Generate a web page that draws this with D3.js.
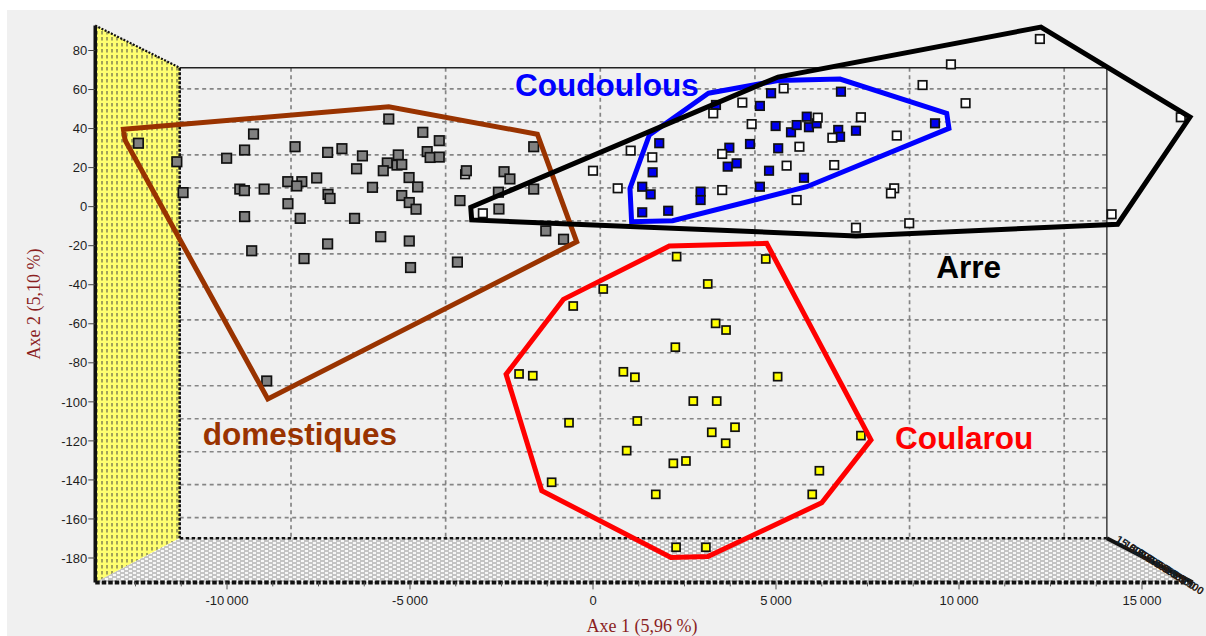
<!DOCTYPE html>
<html><head><meta charset="utf-8">
<script src="https://cdn.jsdelivr.net/npm/d3@7"></script>
<style>html,body{margin:0;padding:0;background:#fff;}svg{display:block;}</style>
</head><body>
<svg id="chart" width="1206" height="636"></svg>
<script>
// ---- data ----
const xTicks = [-10000, -5000, 0, 5000, 10000, 15000];
const yTicks = [80, 60, 40, 20, 0, -20, -40, -60, -80, -100, -120, -140, -160, -180];
const groupNames = ["domestiques", "Coudoulous", "Arre", "Coularou"];

const domestiques = [[-12420,32.5],[-11370,23.0],[-11200,7.2],[-9275,37.2],[-9520,29.0],[-10010,24.8],[-8140,30.7],[-7250,27.8],[-6860,29.7],[-6300,26.0],[-5580,44.9],[-4650,38.1],[-4200,33.8],[-4530,28.2],[-4450,25.2],[-4200,25.4],[-5320,26.5],[-5620,22.4],[-5355,21.3],[-5225,21.6],[-5730,18.4],[-6460,19.4],[-7550,14.7],[-7955,12.8],[-8340,12.8],[-8095,10.6],[-9650,9.0],[-9525,8.2],[-8985,9.0],[-7240,6.3],[-7185,4.2],[-6025,9.9],[-5025,14.9],[-4790,10.1],[-5225,5.7],[-5020,2.1],[-4835,-1.3],[-8335,1.5],[-8000,-6.0],[-9520,-5.1],[-6515,-6.0],[-5800,-15.4],[-5020,-17.6],[-7250,-19.1],[-9325,-22.6],[-7895,-26.6],[-4985,-31.2],[-3705,-28.4],[-3460,18.4],[-3635,3.1],[-2430,17.9],[-2270,14.2],[-2585,7.4],[-2570,-1.2],[-1620,30.7],[-1620,9.0],[-1290,-12.4],[-805,-16.7],[-8915,-89.3]];

const arre = [[-3495,16.6],[-3010,-3.4],[0,18.4],[675,9.4],[1030,28.7],[1620,25.3],[3285,47.8],[4080,53.3],[4335,42.3],[3530,27.0],[3530,8.5],[5290,21.0],[5210,60.6],[5565,3.4],[5640,30.7],[6140,45.6],[7320,45.8],[6540,35.3],[8300,36.4],[6590,21.3],[8230,9.4],[8140,6.8],[7185,-10.8],[8640,-8.5],[9005,62.3],[9780,72.9],[10180,53.0],[12210,85.9],[16060,45.8],[14170,-3.9]];

const coudoulous = [[1810,32.5],[1630,17.6],[1345,10.2],[1575,6.3],[1345,-2.9],[2055,-2.1],[2940,7.7],[2940,3.4],[3725,30.2],[3680,20.5],[3925,22.2],[4290,32.1],[4560,10.2],[4810,18.4],[5060,29.9],[4990,41.3],[5410,38.1],[5565,41.8],[4560,51.6],[4865,58.1],[3360,52.1],[6775,58.9],[5840,46.1],[5900,40.7],[6110,42.7],[6700,39.3],[6750,35.8],[7185,38.9],[9345,42.7],[5765,14.8]];

const coularou = [[2285,-25.6],[4720,-26.8],[280,-42.2],[-540,-50.9],[3135,-39.6],[3350,-59.8],[3635,-63.2],[2250,-72.0],[-2020,-85.7],[-1645,-86.6],[830,-84.6],[1145,-87.4],[5045,-87.1],[2740,-99.6],[3380,-99.6],[-655,-110.7],[1210,-109.8],[3245,-115.6],[3880,-113.0],[3625,-121.2],[920,-125.0],[2195,-131.5],[2540,-130.3],[7320,-117.3],[6185,-135.3],[5990,-147.4],[-1130,-141.2],[1715,-147.4],[2270,-174.5],[3085,-174.5]];

const hullDomestiques = [[-12830,39.6],[-12785,34.1],[-8885,-98.5],[-445,-18.0],[-1520,37.1],[-5580,51.2]];
const hullCoudoulous = [[3150,58.1],[5055,64.6],[6750,65.4],[9665,47.8],[9725,40.1],[5840,10.2],[2175,-7.2],[1055,-7.7],[1010,9.4],[1540,36.7]];
const hullArre = [[-3340,-0.3],[5055,66.4],[12240,92.0],[16310,45.9],[14335,-9.0],[7185,-15.0],[-3315,-6.8]];
const hullCoularou = [[2085,-20.2],[4745,-18.8],[7595,-119.5],[6250,-151.7],[3140,-179.2],[2130,-179.7],[-1400,-145.5],[-2375,-85.9],[-810,-47.5]];

// ---- scales (front plane) ----
const x = d3.scaleLinear().domain([-10000, 15000]).range([227, 1142]);
const y = d3.scaleLinear().domain([80, -180]).range([50.5, 558]);
const xExt = [-13600, 16380], yExt = [-192.5, 92.8];
// perspective to back plane
const K = 0.845, CX = 640, CY = 298;
const bx = px => CX + (px - CX) * K;
const by = py => CY + (py - CY) * K;

const svg = d3.select("#chart");
const defs = svg.append("defs");
const wp = defs.append("pattern").attr("id","wallPat").attr("width",5).attr("height",6).attr("patternUnits","userSpaceOnUse");
wp.append("rect").attr("width",5).attr("height",6).attr("fill","#ffff70");
wp.append("line").attr("x1",2).attr("x2",2).attr("y1",1).attr("y2",4.5).attr("stroke","#555545").attr("stroke-width",1.1);
const fp = defs.append("pattern").attr("id","floorPat").attr("width",8).attr("height",4).attr("patternUnits","userSpaceOnUse");
fp.append("rect").attr("width",8).attr("height",4).attr("fill","#f8f8f8");
fp.append("line").attr("x1",0).attr("x2",5).attr("y1",1).attr("y2",1).attr("stroke","#999").attr("stroke-width",1.1);
fp.append("line").attr("x1",4).attr("x2",9).attr("y1",3).attr("y2",3).attr("stroke","#999").attr("stroke-width",1.1);
fp.append("line").attr("x1",-4).attr("x2",1).attr("y1",3).attr("y2",3).attr("stroke","#999").attr("stroke-width",1.1);

// background
svg.append("rect").attr("x",7).attr("y",10).attr("width",1199).attr("height",626).attr("fill","#f0f0f0");

const fl = x(xExt[0]), fr = x(xExt[1]), ft = y(yExt[1]), fb = y(yExt[0]);
const bl = bx(fl), br = bx(fr), bt = by(ft), bb = by(fb);

// back panel grid
const grid = svg.append("g");
grid.selectAll("line.v").data(xTicks).join("line")
  .attr("x1", d => bx(x(d))).attr("x2", d => bx(x(d)))
  .attr("y1", bt).attr("y2", bb)
  .attr("stroke","#858585").attr("stroke-width",1.7).attr("stroke-dasharray","4,3.5");
grid.selectAll("line.h").data(yTicks).join("line")
  .attr("x1", bl).attr("x2", br)
  .attr("y1", d => by(y(d))).attr("y2", d => by(y(d)))
  .attr("stroke","#858585").attr("stroke-width",1.7).attr("stroke-dasharray","4,3.5");
svg.append("path").attr("d", `M${bl},${bt}L${br},${bt}L${br},${bb}`)
  .attr("fill","none").attr("stroke","#222").attr("stroke-width",1.3);

// wall
svg.append("path").attr("d", `M${fl},${ft}L${bl},${bt}L${bl},${bb}L${fl},${fb}Z`).attr("fill","url(#wallPat)");
// floor
svg.append("path").attr("d", `M${fl},${fb}L${bl},${bb}L${br},${bb}L${fr},${fb}Z`).attr("fill","url(#floorPat)");
// edges
svg.append("line").attr("x1",fl).attr("y1",ft).attr("x2",bl).attr("y2",bt).attr("stroke","#111").attr("stroke-width",2.2).attr("stroke-dasharray","2,1.5");
svg.append("line").attr("x1",bl).attr("y1",bt).attr("x2",bl).attr("y2",bb).attr("stroke","#111").attr("stroke-width",2.6).attr("stroke-dasharray","3,1.5");
svg.append("line").attr("x1",bl).attr("y1",bb).attr("x2",br).attr("y2",bb).attr("stroke","#111").attr("stroke-width",2.4).attr("stroke-dasharray","3.5,2.5");
svg.append("line").attr("x1",fl).attr("y1",fb).attr("x2",fr).attr("y2",fb).attr("stroke","#111").attr("stroke-width",4).attr("stroke-dasharray","4.5,2");
svg.append("line").attr("x1",fl).attr("y1",ft).attr("x2",fl).attr("y2",fb).attr("stroke","#111").attr("stroke-width",3.5);
svg.append("line").attr("x1",br).attr("y1",bb).attr("x2",fr).attr("y2",fb).attr("stroke","#111").attr("stroke-width",4);

// overlapping depth-axis labels along the right diagonal
const dg = svg.append("g");
d3.range(8).forEach(i => {
  const t = i / 7;
  const px = br + 8 + (fr - br - 28) * t, py = bb + 3 + (fb - bb - 8) * t;
  dg.append("text").attr("transform", `translate(${px},${py}) rotate(32)`)
    .attr("font-family","Liberation Sans, Arial, sans-serif").attr("font-size",11)
    .attr("font-weight","bold")
    .attr("fill", i % 2 ? "#2a1a10" : "#10202a").text("15 000");
});

// axis ticks & labels
const axG = svg.append("g").attr("font-family","Liberation Sans, Arial, sans-serif").attr("font-size",13).attr("fill","#1e1e1e");
axG.selectAll("line.yt").data(yTicks).join("line")
  .attr("x1", fl - 7).attr("x2", fl).attr("y1", d => y(d)).attr("y2", d => y(d))
  .attr("stroke","#444").attr("stroke-width",1);
axG.selectAll("text.yl").data(yTicks).join("text")
  .attr("x", fl - 8).attr("y", d => y(d)).attr("dy","0.36em").attr("text-anchor","end").text(d => d);
const minorX = d3.range(-12500, 16300, 1250);
axG.selectAll("line.xm").data(minorX).join("line")
  .attr("x1", d => x(d)).attr("x2", d => x(d)).attr("y1", fb).attr("y2", d => (d % 5000 === 0) ? fb + 7 : fb + 4)
  .attr("stroke","#555").attr("stroke-width",1);
const fmt = d => d3.format(",")(d).replace(/,/g, "\u2009").replace("−","-");
axG.selectAll("text.xl").data(xTicks).join("text")
  .attr("x", d => x(d)).attr("y", fb + 23).attr("text-anchor","middle").text(d => fmt(d));

// axis titles
svg.append("text").attr("transform", `translate(40,${(ft+fb)/2}) rotate(-90)`)
  .attr("text-anchor","middle").attr("font-family","Liberation Serif, Times New Roman, serif")
  .attr("font-size",18).attr("fill","#8b1f1f").text("Axe 2 (5,10 %)");
svg.append("text").attr("x", 642).attr("y", 632)
  .attr("text-anchor","middle").attr("font-family","Liberation Serif, Times New Roman, serif")
  .attr("font-size",18).attr("fill","#8b1f1f").text("Axe 1 (5,96 %)");

// points
function drawPts(data, fill, size) {
  const g = svg.append("g");
  g.selectAll("rect").data(data).join("rect")
    .attr("x", d => x(d[0]) - size/2).attr("y", d => y(d[1]) - size/2)
    .attr("width", size).attr("height", size)
    .attr("fill", fill).attr("stroke","#111").attr("stroke-width",1.7);
}
drawPts(coudoulous, "#0000f0", 8.5);
drawPts(arre, "#ffffff", 8.5);
drawPts(domestiques, "#808080", 9.5);
drawPts(coularou, "#ffff00", 8);

// hulls
const line = d3.line().x(d => x(d[0])).y(d => y(d[1])).curve(d3.curveLinearClosed);
const hulls = [[hullDomestiques,"#993300"],[hullCoudoulous,"#0000ff"],[hullArre,"#000000"],[hullCoularou,"#ff0000"]];
hulls.forEach(([h,c]) => svg.append("path").attr("d", line(h)).attr("fill","none")
  .attr("stroke", c).attr("stroke-width",5).attr("stroke-linejoin","miter"));

// group labels
const labelPos = [[-2130, 56.7, "#0000ff", "Coudoulous"], [9380, -36.6, "#000000", "Arre"],
                  [-10660, -122, "#993300", "domestiques"], [8250, -124, "#ff0000", "Coularou"]];
svg.append("g").selectAll("text").data(labelPos).join("text")
  .attr("x", d => x(d[0])).attr("y", d => y(d[1]))
  .attr("font-family","Liberation Sans, Arial, sans-serif").attr("font-weight","bold")
  .attr("font-size",31.5).attr("fill", d => d[2]).text(d => d[3]);
</script>
</body></html>
